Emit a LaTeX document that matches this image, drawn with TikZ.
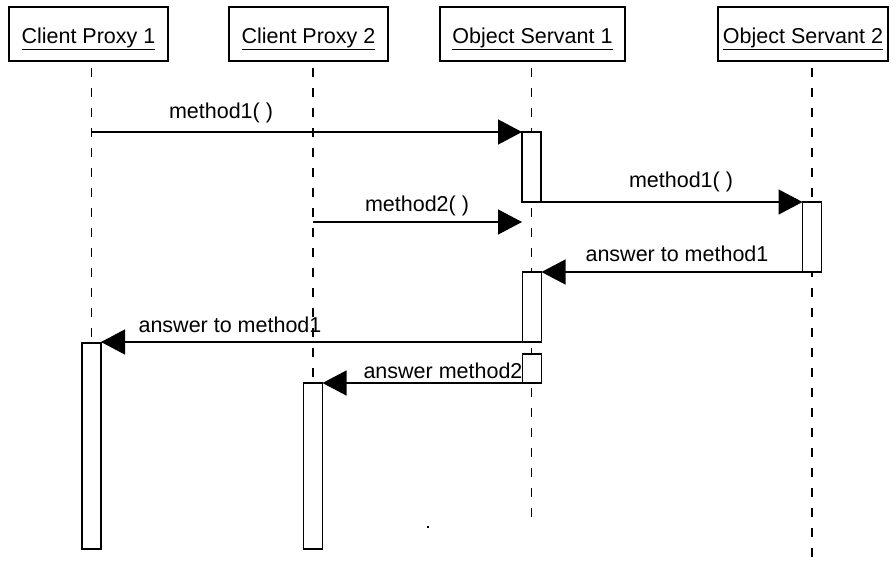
\documentclass[tikz,border=0pt]{standalone}
\usepackage{fontspec}
\setmainfont{Liberation Sans}
\usetikzlibrary{arrows.meta,calc}
\begin{document}
\begin{tikzpicture}[x=1pt,y=-1pt,
  txt/.style={font=\fontsize{21.5}{25}\selectfont},
  head/.style={draw, line width=1.5pt, inner sep=0pt, outer sep=0pt, minimum height=54pt, text height=22pt, text depth=4pt, txt},
  life/.style={line width=1.4pt, dash pattern=on 9pt off 11pt, dash phase=13pt},
  act/.style={draw, fill=white, line width=1.3pt, inner sep=0pt, outer sep=0pt, minimum width=19pt},
  msg/.style={line width=1.3pt, -{Triangle[length=24pt,width=25pt]}},
  lbl/.style={txt, inner sep=0pt}]
\useasboundingbox (0,0) rectangle (896,560);
% headers
\node[head, minimum width=159pt] (cp1) at (88.5,34) {\underline{Client Proxy 1}};
\node[head, minimum width=159pt] (cp2) at (308.5,34) {\underline{Client Proxy 2}};
\node[head, minimum width=185pt] (os1) at (532.5,34) {\underline{Object Servant 1}};
\node[head, minimum width=170pt] (os2) at (803,34) {\underline{Object Servant 2}};
% lifeline ends
\coordinate (l1) at (91.5,343);
\coordinate (l2) at (313,383);
\coordinate (l3) at (531.5,518);
\coordinate (l4) at (812,560);
% lifelines
\draw[life] (cp1.south -| l1) -- (l1);
\draw[life] (cp2.south -| l2) -- (l2);
\draw[life] (os1.south -| l3) -- (l3);
\draw[life] (os2.south -| l4) -- (l4);
% activations
\node[act, minimum height=70pt] (a1) at (531.5,167) {};
\node[act, minimum height=70pt] (a2) at (812,237) {};
\node[act, minimum height=70pt] (a3) at (532,307) {};
\node[act, minimum height=29pt] (a4) at (532,368.5) {};
\node[act, minimum height=206pt] (a5) at (91.5,446) {};
\node[act, minimum height=166pt] (a6) at (313,466) {};
% messages
\draw[msg] (l1 |- a1.north west) -- (a1.north west);
\node[lbl] (t1) at (221,113) {method1( )};
\draw[msg] (a1.south east) -- (a2.north west);
\node[lbl] (t2) at (681,182) {method1( )};
\coordinate (m3e) at (522,222);
\draw[msg] (l2 |- m3e) -- (m3e);
\node[lbl] (t3) at (417,206) {method2( )};
\draw[msg] (a2.south west) -- (a3.north east);
\node[lbl] (t4) at (677,254) {answer to method1};
\draw[msg] (a3.south west) -- (a3.south west -| a5.east);
\node[lbl] (t5) at (230,325) {answer to method1};
\draw[msg] (a4.south west) -- (a6.north east);
\node[lbl] (t6) at (443,371) {answer method2};
% stray dot
\fill (427,526) rectangle (429,528);
\end{tikzpicture}
\end{document}
